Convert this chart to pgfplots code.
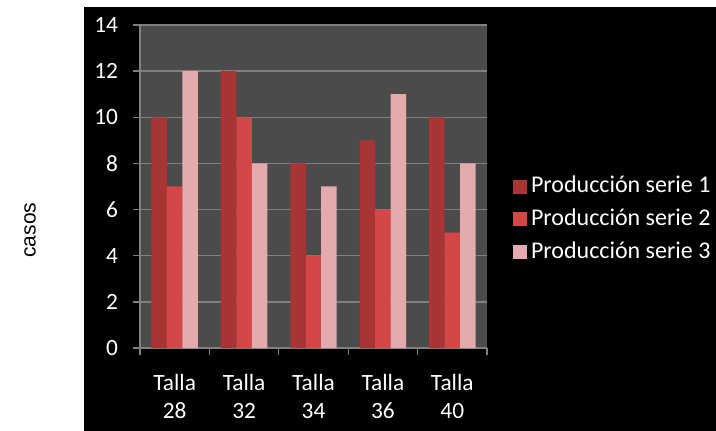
\documentclass[border=0pt]{standalone}
\usepackage{pgfplots}
\pgfplotsset{compat=1.18}
\usepackage{fontspec}
\setmainfont{Carlito}
\newfontfamily\arialf{Liberation Sans}
\definecolor{plotbg}{HTML}{4B4B4B}
\definecolor{gridc}{HTML}{808080}
\definecolor{sAm}{HTML}{A83434}
\definecolor{sBm}{HTML}{D54747}
\definecolor{sCm}{HTML}{E3ABAE}
\begin{document}
\begin{tikzpicture}
\fill[white] (-105pt,-62.25pt) rectangle (432pt,261pt);
\fill[black] (-42pt,-62.25pt) rectangle (432pt,255.75pt);
\begin{axis}[
  at={(0pt,0pt)}, anchor=south west,
  scale only axis, width=260.25pt, height=242.25pt,
  ymin=0, ymax=14, ytick={0,2,...,14},
  xmin=-0.5, xmax=4.5,
  xtick={-0.5,0.5,1.5,2.5,3.5,4.5}, xticklabels={},
  extra x ticks={0,1,2,3,4},
  extra x tick labels={{Talla\\28},{Talla\\32},{Talla\\34},{Talla\\36},{Talla\\40}},
  extra x tick style={major tick length=0pt, xticklabel style={align=center, yshift=-16pt}},
  axis background/.style={fill=plotbg},
  ymajorgrids, grid style={gridc, line width=1pt},
  axis lines*=left,
  axis line style={gridc, line width=1pt},
  tick align=outside, major tick length=5pt,
  tick style={gridc, line width=1pt},
  /pgf/number format/assume math mode=true,
  tick label style={white, font=\fontsize{17.5}{21}\selectfont},
  yticklabel style={xshift=-8pt},
  ybar=0pt, bar width=11.6pt,
  ylabel={\arialf casos},
  ylabel style={at={(axis description cs:-0.317,0.365)}, anchor=center, black, font=\fontsize{15.75}{18}\selectfont},
  legend style={draw=none, fill=none, text=white, font=\fontsize{18}{21}\selectfont,
    inner sep=0pt, outer sep=0pt,
    at={(axis description cs:1.075,0.397)}, anchor=west, row sep=7.6pt, column sep=3pt,
    nodes={inner sep=0pt, outer sep=0pt, text height=13pt, text depth=4pt}},
  legend cell align=left,
  legend image code/.code={\fill[#1] (0pt,-5pt) rectangle (10.5pt,5.5pt);},
]
\addplot[draw=none, fill=sAm] coordinates {(0,10) (1,12) (2,8) (3,9) (4,10)};
\addplot[draw=none, fill=sBm] coordinates {(0,7) (1,10) (2,4) (3,6) (4,5)};
\addplot[draw=none, fill=sCm] coordinates {(0,12) (1,8) (2,7) (3,11) (4,8)};
\legend{Producción serie 1, Producción serie 2, Producción serie 3}
\end{axis}
\pgfresetboundingbox
\useasboundingbox (-105pt,-62.25pt) rectangle (432pt,261pt);
\end{tikzpicture}
\end{document}
